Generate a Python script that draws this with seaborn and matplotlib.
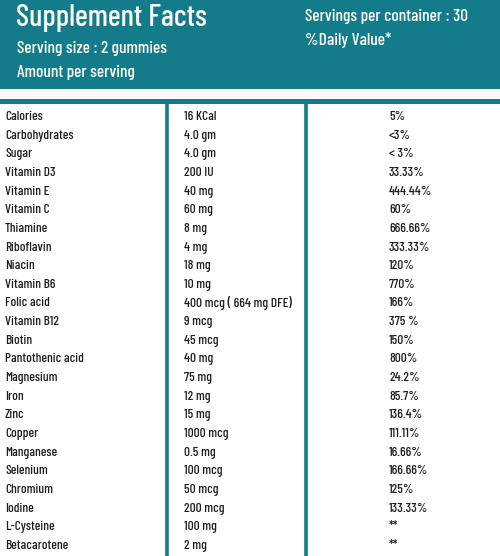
import matplotlib.pyplot as plt
import seaborn as sns
from matplotlib import font_manager

nutrients = ['Calories', 'Carbohydrates', 'Sugar', 'Vitamin D3', 'Vitamin E', 'Vitamin C',
             'Thiamine', 'Riboflavin', 'Niacin', 'Vitamin B6', 'Folic acid', 'Vitamin B12',
             'Biotin', 'Pantothenic acid', 'Magnesium', 'Iron', 'Zinc', 'Copper', 'Manganese',
             'Selenium', 'Chromium', 'Iodine', 'L-Cysteine', 'Betacarotene']
amounts = ['16 KCal', '4.0 gm', '4.0 gm', '200 IU', '40 mg', '60 mg', '8 mg', '4 mg',
           '18 mg', '10 mg', '400 mcg ( 664 mg DFE)', '9 mcg', '45 mcg', '40 mg', '75 mg',
           '12 mg', '15 mg', '1000 mcg', '0.5 mg', '100 mcg', '50 mcg', '200 mcg',
           '100 mg', '2 mg']
daily_values = ['5%', '<3%', '< 3%', '33.33%', '444.44%', '60%', '666.66%', '333.33%',
                '120%', '770%', '166%', '375 %', '150%', '800%', '24.2%', '85.7%', '136.4%',
                '111.11%', '16.66%', '166.66%', '125%', '133.33%', '**', '**']

title = 'Supplement Facts'
serving_size = 'Serving size : 2 gummies'
amount_label = 'Amount per serving'
servings_text = 'Servings per container : 30'
dv_label = '%Daily Value*'

sns.set_theme(style='white')
names = {f.name for f in font_manager.fontManager.ttflist}
condensed = 'Barlow Condensed' in names
plt.rcParams['font.family'] = (['Barlow Condensed', 'DejaVu Sans'] if condensed
                               else ['Roboto', 'DejaVu Sans'])
scale = 1.0 if condensed else 0.75

teal = '#137b89'
ink = '#1e1e1e'

fig = plt.figure(figsize=(5, 5.56), dpi=100)
ax = fig.add_axes([0, 0, 1, 1])
ax.set_xlim(0, 500)
ax.set_ylim(556, 0)
ax.axis('off')

# header band
ax.axhspan(0, 89, color=teal, lw=0)
ax.axhspan(99, 103.5, color=teal, lw=0)
head = dict(color='white', fontweight='medium', va='center', ha='left')
ax.text(16, 18, title, fontsize=22 * scale, **head)
ax.text(17, 48, serving_size, fontsize=12.5 * scale, **head)
ax.text(17, 72, amount_label, fontsize=12.5 * scale, **head)
ax.text(305, 16, servings_text, fontsize=12.5 * scale, **head)
ax.text(305, 40, dv_label, fontsize=12.5 * scale, **head)

# column dividers
for x in (167, 306):
    ax.plot([x, x], [103, 556], color=teal, lw=2.6, solid_capstyle='butt')

top, step = 117, 18.65
cell = dict(color=ink, fontsize=9.6 * scale, fontweight='medium', va='center', ha='left')
for i, (n, a, d) in enumerate(zip(nutrients, amounts, daily_values)):
    y = top + step * i
    ax.text(5, y, n, **cell)
    ax.text(184, y, a, **cell)
    ax.text(389, y, d, **cell)

fig.savefig('out.png', dpi=100)
